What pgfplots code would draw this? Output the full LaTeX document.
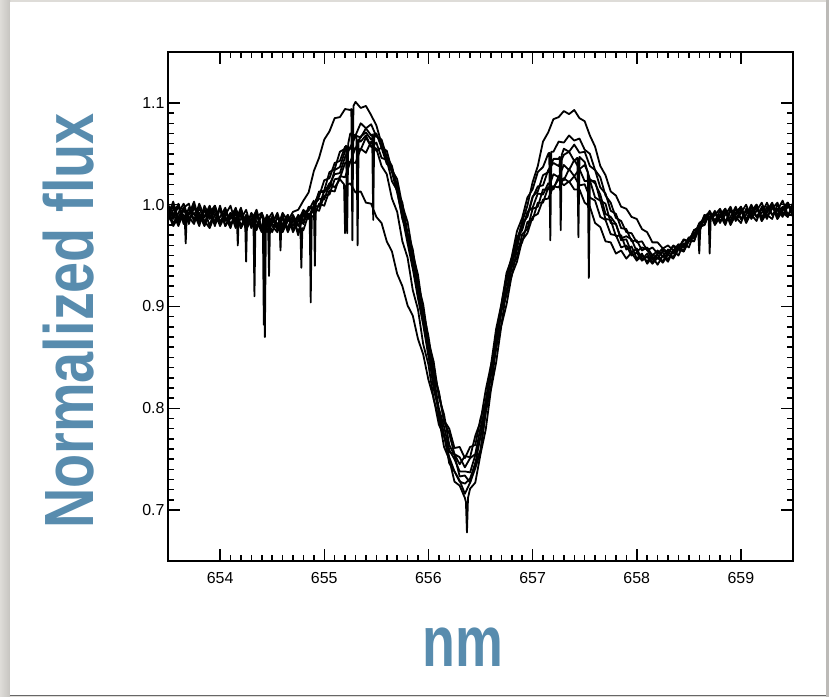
\documentclass[border=0pt]{standalone}
\usepackage{pgfplots}
\pgfplotsset{compat=1.18}
\usepackage{fontspec}
\setmainfont{Liberation Sans}
\newfontfamily\labelfont[FakeStretch=0.80]{Liberation Sans}
\newfontfamily\nmfont[FakeStretch=0.75]{Liberation Sans}
\definecolor{lblue}{RGB}{88,140,174}
\definecolor{bgA}{RGB}{222,220,216}
\definecolor{bgB}{RGB}{198,196,192}
\definecolor{bgR}{RGB}{188,186,183}
\begin{document}
\begin{tikzpicture}[x=1bp,y=1bp]
\fill[bgA] (0,0) rectangle (829,697);
\fill[left color=bgA,right color=bgB] (0,0) rectangle (10,697);
\fill[bgR] (826,0) rectangle (829,697);
\fill[white] (10,2) rectangle (826,695);
\fill[black!60] (10,0.5) rectangle (826,2);
\begin{axis}[
  at={(168bp,136bp)}, anchor=south west,
  width=625bp, height=509bp, scale only axis,
  xmin=653.5, xmax=659.5, ymin=0.65, ymax=1.15,
  xtick={654,655,656,657,658,659},
  ytick={0.7,0.8,0.9,1.0,1.1},
  minor x tick num=9, minor y tick num=9,
  tick align=inside,
  major tick length=12bp, minor tick length=6bp,
  axis line style={line width=1.6bp},
  every tick/.style={black,line width=1.5bp},
  tick label style={font=\fontsize{16}{19}\selectfont},
  /pgf/number format/assume math mode=true,
  x tick label style={yshift=-8bp},
  y tick label style={/pgf/number format/fixed,/pgf/number format/fixed zerofill,/pgf/number format/precision=1},
  cycle list={{black,solid,mark=none}},
  every axis plot post/.append style={black,solid,mark=none,line width=1.8bp,line join=round},
  clip=true,
]
% A
\addplot coordinates {(653.50,1.001)(653.55,0.986)(653.60,0.999)(653.65,0.981)(653.66,0.988)(653.67,0.962)(653.68,0.990)(653.70,0.997)(653.75,0.984)(653.80,1.001)(653.85,0.988)(653.90,0.995)(653.95,0.979)(654.00,0.997)(654.05,0.984)(654.10,0.992)(654.15,0.977)(654.20,0.995)(654.25,0.981)(654.30,0.990)(654.35,0.975)(654.40,0.992)(654.45,0.979)(654.50,0.988)(654.55,0.977)(654.60,0.992)(654.65,0.984)(654.70,0.993)(654.75,0.995)(654.80,1.004)(654.85,1.012)(654.90,1.033)(654.95,1.046)(655.00,1.064)(655.05,1.072)(655.10,1.085)(655.15,1.086)(655.20,1.094)(655.25,1.093)(655.26,1.094)(655.27,0.965)(655.28,1.097)(655.30,1.101)(655.35,1.095)(655.40,1.097)(655.45,1.088)(655.50,1.078)(655.55,1.060)(655.60,1.044)(655.65,1.032)(655.70,1.012)(655.75,0.988)(655.80,0.962)(655.85,0.937)(655.90,0.908)(655.95,0.882)(656.00,0.851)(656.05,0.824)(656.10,0.796)(656.15,0.773)(656.20,0.752)(656.25,0.738)(656.30,0.728)(656.35,0.726)(656.40,0.731)(656.45,0.746)(656.50,0.772)(656.55,0.801)(656.60,0.836)(656.65,0.868)(656.70,0.902)(656.75,0.928)(656.80,0.944)(656.85,0.962)(656.90,0.983)(656.95,0.999)(657.00,1.022)(657.05,1.038)(657.10,1.062)(657.15,1.071)(657.20,1.084)(657.25,1.086)(657.30,1.092)(657.35,1.089)(657.40,1.093)(657.45,1.085)(657.50,1.082)(657.55,1.068)(657.60,1.057)(657.65,1.038)(657.70,1.029)(657.75,1.013)(657.80,1.009)(657.85,0.998)(657.90,0.996)(657.95,0.988)(658.00,0.986)(658.05,0.976)(658.10,0.973)(658.15,0.963)(658.20,0.963)(658.25,0.957)(658.30,0.960)(658.35,0.955)(658.40,0.961)(658.45,0.960)(658.50,0.967)(658.55,0.970)(658.60,0.982)(658.65,0.986)(658.70,0.992)(658.75,0.984)(658.80,0.994)(658.85,0.982)(658.90,0.996)(658.95,0.986)(659.00,0.994)(659.05,0.984)(659.10,0.998)(659.15,0.988)(659.20,0.996)(659.25,0.986)(659.30,1.000)(659.35,0.990)(659.40,0.998)(659.45,0.988)(659.50,1.000)};
% B
\addplot coordinates {(653.50,0.990)(653.55,1.003)(653.60,0.984)(653.65,0.997)(653.70,0.981)(653.75,0.999)(653.80,0.986)(653.85,0.995)(653.90,0.979)(653.95,0.997)(654.00,0.981)(654.05,0.995)(654.10,0.979)(654.15,0.992)(654.20,0.977)(654.24,0.986)(654.25,0.944)(654.26,0.988)(654.30,0.979)(654.35,0.992)(654.40,0.975)(654.45,0.988)(654.50,0.973)(654.55,0.988)(654.60,0.977)(654.65,0.990)(654.70,0.975)(654.75,0.988)(654.80,0.981)(654.85,0.996)(654.90,0.997)(654.95,1.012)(655.00,1.014)(655.05,1.032)(655.10,1.035)(655.15,1.052)(655.20,1.055)(655.21,1.058)(655.22,0.972)(655.23,1.060)(655.25,1.070)(655.30,1.068)(655.35,1.080)(655.40,1.075)(655.45,1.079)(655.50,1.067)(655.55,1.064)(655.60,1.047)(655.65,1.038)(655.70,1.015)(655.75,0.997)(655.80,0.967)(655.85,0.947)(655.90,0.915)(655.95,0.890)(656.00,0.855)(656.05,0.832)(656.10,0.800)(656.15,0.782)(656.20,0.759)(656.25,0.750)(656.30,0.738)(656.35,0.738)(656.40,0.737)(656.45,0.754)(656.50,0.772)(656.55,0.807)(656.60,0.835)(656.65,0.872)(656.70,0.897)(656.75,0.930)(656.80,0.949)(656.85,0.974)(656.90,0.987)(656.95,1.007)(657.00,1.015)(657.05,1.032)(657.10,1.037)(657.15,1.050)(657.16,1.051)(657.17,0.965)(657.18,1.052)(657.20,1.052)(657.25,1.062)(657.30,1.061)(657.35,1.068)(657.40,1.063)(657.45,1.065)(657.50,1.054)(657.55,1.050)(657.60,1.034)(657.65,1.027)(657.70,1.009)(657.75,1.002)(657.80,0.987)(657.85,0.984)(657.90,0.973)(657.95,0.972)(658.00,0.963)(658.05,0.964)(658.10,0.955)(658.15,0.958)(658.20,0.952)(658.25,0.957)(658.30,0.953)(658.35,0.959)(658.40,0.957)(658.45,0.965)(658.50,0.964)(658.55,0.975)(658.60,0.978)(658.65,0.989)(658.70,0.988)(658.75,0.992)(658.80,0.982)(658.85,0.994)(658.90,0.984)(658.95,0.996)(659.00,0.986)(659.05,0.994)(659.10,0.988)(659.15,0.998)(659.20,0.986)(659.25,0.998)(659.30,0.990)(659.35,0.996)(659.40,0.988)(659.45,1.000)(659.50,0.992)};
% C
\addplot coordinates {(653.50,0.997)(653.55,0.981)(653.60,0.992)(653.65,1.001)(653.70,0.986)(653.75,0.992)(653.80,0.979)(653.85,0.999)(653.90,0.988)(653.95,0.984)(654.00,0.999)(654.05,0.979)(654.10,0.990)(654.15,0.995)(654.20,0.977)(654.25,0.988)(654.30,0.981)(654.32,0.986)(654.33,0.910)(654.34,0.988)(654.35,0.990)(654.40,0.977)(654.45,0.986)(654.50,0.979)(654.55,0.973)(654.60,0.988)(654.65,0.975)(654.70,0.986)(654.75,0.973)(654.80,0.990)(654.85,0.987)(654.90,0.999)(654.95,0.998)(655.00,1.014)(655.05,1.016)(655.10,1.034)(655.15,1.037)(655.20,1.053)(655.25,1.055)(655.30,1.068)(655.35,1.066)(655.40,1.075)(655.45,1.068)(655.46,1.069)(655.47,0.985)(655.48,1.070)(655.50,1.070)(655.55,1.056)(655.60,1.053)(655.65,1.034)(655.70,1.025)(655.75,0.999)(655.80,0.983)(655.85,0.952)(655.90,0.931)(655.95,0.895)(656.00,0.871)(656.05,0.837)(656.10,0.816)(656.15,0.787)(656.20,0.775)(656.25,0.755)(656.30,0.752)(656.35,0.742)(656.40,0.751)(656.45,0.755)(656.50,0.781)(656.55,0.802)(656.60,0.838)(656.65,0.862)(656.70,0.896)(656.75,0.915)(656.80,0.943)(656.85,0.957)(656.90,0.980)(656.95,0.989)(657.00,1.008)(657.05,1.013)(657.10,1.029)(657.15,1.032)(657.20,1.045)(657.25,1.045)(657.26,1.047)(657.27,0.975)(657.28,1.049)(657.30,1.055)(657.35,1.052)(657.40,1.059)(657.45,1.051)(657.50,1.052)(657.55,1.038)(657.60,1.034)(657.65,1.017)(657.70,1.011)(657.75,0.994)(657.80,0.991)(657.85,0.977)(657.90,0.976)(657.95,0.964)(658.00,0.965)(658.05,0.955)(658.10,0.958)(658.15,0.950)(658.20,0.955)(658.25,0.949)(658.30,0.956)(658.35,0.952)(658.40,0.961)(658.45,0.958)(658.50,0.968)(658.55,0.967)(658.60,0.981)(658.65,0.983)(658.70,0.993)(658.75,0.982)(658.80,0.990)(658.85,0.996)(658.90,0.982)(658.95,0.992)(659.00,0.998)(659.05,0.984)(659.10,0.994)(659.15,1.000)(659.20,0.988)(659.25,0.994)(659.30,1.002)(659.35,0.988)(659.40,0.996)(659.45,1.002)(659.50,0.990)};
% D
\addplot coordinates {(653.50,0.984)(653.55,0.995)(653.60,0.999)(653.65,0.984)(653.70,0.990)(653.75,1.003)(653.80,0.984)(653.85,0.988)(653.90,0.999)(653.95,0.981)(654.00,0.988)(654.05,0.997)(654.10,0.981)(654.15,0.986)(654.16,0.990)(654.17,0.960)(654.18,0.992)(654.20,0.997)(654.25,0.979)(654.30,0.986)(654.35,0.992)(654.40,0.977)(654.42,0.981)(654.43,0.870)(654.44,0.984)(654.45,0.984)(654.50,0.992)(654.55,0.975)(654.60,0.981)(654.65,0.990)(654.70,0.973)(654.75,0.984)(654.80,0.995)(654.85,0.988)(654.90,0.999)(654.95,1.006)(655.00,1.005)(655.05,1.020)(655.10,1.030)(655.15,1.031)(655.20,1.047)(655.25,1.056)(655.30,1.055)(655.35,1.067)(655.40,1.071)(655.45,1.064)(655.50,1.068)(655.55,1.062)(655.60,1.043)(655.65,1.036)(655.70,1.019)(655.75,0.989)(655.80,0.971)(655.85,0.946)(655.90,0.910)(655.95,0.887)(656.00,0.857)(656.05,0.819)(656.10,0.798)(656.15,0.774)(656.20,0.746)(656.25,0.738)(656.30,0.729)(656.35,0.716)(656.40,0.727)(656.45,0.741)(656.50,0.758)(656.55,0.796)(656.60,0.832)(656.65,0.858)(656.70,0.896)(656.75,0.924)(656.80,0.939)(656.85,0.965)(656.90,0.982)(656.95,0.988)(657.00,1.007)(657.05,1.018)(657.10,1.019)(657.15,1.034)(657.20,1.041)(657.25,1.038)(657.30,1.049)(657.35,1.052)(657.40,1.043)(657.43,1.046)(657.44,0.968)(657.45,1.047)(657.50,1.042)(657.55,1.025)(657.60,1.021)(657.65,1.010)(657.70,0.991)(657.75,0.988)(657.80,0.981)(657.85,0.967)(657.90,0.969)(657.95,0.966)(658.00,0.954)(658.05,0.958)(658.10,0.956)(658.15,0.946)(658.20,0.952)(658.25,0.953)(658.30,0.946)(658.35,0.955)(658.40,0.958)(658.45,0.955)(658.50,0.966)(658.55,0.972)(658.60,0.973)(658.65,0.988)(658.70,0.993)(658.75,0.980)(658.80,0.988)(658.85,0.996)(658.90,0.982)(658.95,0.990)(659.00,0.998)(659.05,0.986)(659.10,0.992)(659.15,1.000)(659.20,0.984)(659.25,0.992)(659.30,1.000)(659.35,0.986)(659.40,0.994)(659.45,1.002)(659.50,0.988)};
% E
\addplot coordinates {(653.50,0.992)(653.55,0.979)(653.60,0.988)(653.65,0.997)(653.70,1.001)(653.75,0.984)(653.80,0.992)(653.85,0.981)(653.90,0.997)(653.95,0.992)(654.00,0.979)(654.05,0.990)(654.10,0.999)(654.15,0.981)(654.20,0.986)(654.25,0.995)(654.30,0.977)(654.35,0.988)(654.40,0.992)(654.41,0.988)(654.42,0.882)(654.43,0.984)(654.45,0.975)(654.50,0.984)(654.55,0.990)(654.60,0.973)(654.65,0.984)(654.70,0.988)(654.75,0.970)(654.80,0.992)(654.85,0.986)(654.90,0.996)(654.95,0.994)(655.00,1.009)(655.05,1.010)(655.10,1.025)(655.15,1.026)(655.20,1.041)(655.25,1.042)(655.30,1.056)(655.35,1.054)(655.40,1.066)(655.45,1.057)(655.50,1.061)(655.55,1.046)(655.60,1.044)(655.65,1.023)(655.70,1.014)(655.75,0.986)(655.80,0.971)(655.85,0.938)(655.90,0.920)(655.95,0.885)(656.00,0.866)(656.05,0.832)(656.10,0.816)(656.15,0.788)(656.20,0.780)(656.25,0.761)(656.30,0.762)(656.35,0.751)(656.40,0.762)(656.45,0.764)(656.50,0.790)(656.55,0.806)(656.60,0.842)(656.65,0.862)(656.70,0.896)(656.75,0.911)(656.80,0.939)(656.85,0.948)(656.90,0.971)(656.95,0.976)(657.00,0.996)(657.05,0.998)(657.10,1.015)(657.15,1.015)(657.20,1.030)(657.25,1.027)(657.30,1.039)(657.35,1.034)(657.40,1.044)(657.45,1.035)(657.50,1.039)(657.53,1.032)(657.54,0.928)(657.55,1.024)(657.60,1.023)(657.65,1.004)(657.70,1.001)(657.75,0.982)(657.80,0.981)(657.85,0.965)(657.90,0.966)(657.95,0.953)(658.00,0.957)(658.05,0.946)(658.10,0.952)(658.15,0.943)(658.20,0.951)(658.25,0.944)(658.30,0.954)(658.35,0.948)(658.40,0.959)(658.45,0.954)(658.50,0.966)(658.55,0.964)(658.60,0.980)(658.65,0.980)(658.70,0.994)(658.75,0.984)(658.80,0.990)(658.85,0.980)(658.90,0.994)(658.95,0.988)(659.00,0.982)(659.05,0.996)(659.10,0.990)(659.15,0.984)(659.20,0.998)(659.25,0.990)(659.30,0.986)(659.35,1.000)(659.40,0.992)(659.45,0.988)(659.50,1.002)};
% F
\addplot coordinates {(653.50,0.988)(653.55,0.999)(653.60,0.981)(653.65,0.990)(653.70,0.984)(653.75,0.997)(653.80,0.990)(653.85,0.979)(653.90,0.992)(653.95,0.999)(654.00,0.984)(654.05,0.988)(654.10,0.977)(654.15,0.995)(654.20,0.988)(654.25,0.977)(654.30,0.992)(654.35,0.984)(654.40,0.973)(654.45,0.990)(654.50,0.981)(654.55,0.977)(654.57,0.984)(654.58,0.955)(654.59,0.986)(654.60,0.990)(654.65,0.973)(654.70,0.984)(654.75,0.988)(654.77,0.981)(654.78,0.938)(654.79,0.977)(654.80,0.975)(654.85,0.991)(654.86,0.990)(654.87,0.904)(654.88,0.989)(654.90,0.988)(654.95,1.001)(655.00,0.999)(655.05,1.014)(655.10,1.013)(655.15,1.028)(655.20,1.027)(655.25,1.042)(655.30,1.041)(655.35,1.055)(655.40,1.051)(655.45,1.062)(655.50,1.053)(655.55,1.056)(655.60,1.040)(655.65,1.036)(655.70,1.013)(655.75,1.002)(655.80,0.972)(655.85,0.956)(655.90,0.922)(655.95,0.902)(656.00,0.866)(656.05,0.846)(656.10,0.811)(656.15,0.794)(656.20,0.764)(656.25,0.754)(656.30,0.733)(656.35,0.734)(656.40,0.727)(656.45,0.746)(656.50,0.759)(656.55,0.796)(656.60,0.820)(656.65,0.860)(656.70,0.882)(656.75,0.916)(656.80,0.930)(656.85,0.956)(656.90,0.963)(656.95,0.983)(657.00,0.985)(657.05,1.002)(657.10,1.002)(657.15,1.017)(657.20,1.015)(657.25,1.028)(657.30,1.024)(657.35,1.035)(657.40,1.028)(657.45,1.035)(657.50,1.023)(657.55,1.024)(657.60,1.007)(657.65,1.004)(657.70,0.986)(657.75,0.985)(657.80,0.969)(657.85,0.970)(657.90,0.956)(657.95,0.959)(658.00,0.947)(658.05,0.952)(658.10,0.942)(658.15,0.949)(658.20,0.941)(658.25,0.950)(658.30,0.944)(658.35,0.955)(658.40,0.950)(658.45,0.962)(658.50,0.958)(658.55,0.972)(658.59,0.974)(658.60,0.952)(658.61,0.976)(658.65,0.988)(658.70,0.985)(658.75,0.990)(658.80,0.996)(658.85,0.984)(658.90,0.988)(658.95,0.998)(659.00,0.986)(659.05,0.990)(659.10,1.000)(659.15,0.988)(659.20,0.992)(659.25,1.002)(659.30,0.990)(659.35,0.994)(659.40,1.004)(659.45,0.990)(659.50,0.996)};
% G
\addplot coordinates {(653.50,0.995)(653.55,0.988)(653.60,1.001)(653.65,0.986)(653.70,0.992)(653.75,0.999)(653.80,0.981)(653.85,0.995)(653.90,0.986)(653.95,0.999)(654.00,0.981)(654.05,0.992)(654.10,0.986)(654.15,0.997)(654.20,0.979)(654.25,0.990)(654.30,0.984)(654.35,0.995)(654.40,0.977)(654.45,0.988)(654.46,0.986)(654.47,0.930)(654.48,0.984)(654.50,0.981)(654.55,0.992)(654.60,0.975)(654.65,0.986)(654.70,0.979)(654.75,0.990)(654.80,0.984)(654.85,0.998)(654.90,0.997)(654.95,1.013)(655.00,1.012)(655.05,1.021)(655.10,1.017)(655.15,1.025)(655.19,1.020)(655.20,0.972)(655.21,1.019)(655.25,1.021)(655.30,1.012)(655.35,1.013)(655.40,1.002)(655.45,1.001)(655.50,0.988)(655.55,0.982)(655.60,0.964)(655.65,0.954)(655.70,0.932)(655.75,0.920)(655.80,0.901)(655.85,0.891)(655.90,0.868)(655.95,0.853)(656.00,0.828)(656.05,0.810)(656.10,0.784)(656.15,0.773)(656.20,0.757)(656.25,0.755)(656.30,0.745)(656.35,0.753)(656.40,0.752)(656.45,0.773)(656.50,0.787)(656.55,0.818)(656.60,0.842)(656.65,0.878)(656.70,0.902)(656.75,0.933)(656.80,0.947)(656.85,0.968)(656.90,0.975)(656.95,0.993)(657.00,0.997)(657.05,1.011)(657.10,1.010)(657.15,1.021)(657.20,1.017)(657.25,1.025)(657.30,1.019)(657.35,1.023)(657.40,1.015)(657.45,1.015)(657.50,1.002)(657.55,0.998)(657.60,0.982)(657.65,0.978)(657.70,0.964)(657.75,0.963)(657.80,0.952)(657.85,0.955)(657.90,0.947)(657.95,0.953)(658.00,0.945)(658.05,0.950)(658.10,0.944)(658.15,0.951)(658.20,0.947)(658.25,0.955)(658.30,0.952)(658.35,0.960)(658.40,0.957)(658.45,0.966)(658.50,0.964)(658.55,0.975)(658.60,0.977)(658.65,0.990)(658.69,0.988)(658.70,0.952)(658.71,0.987)(658.75,0.994)(658.80,0.984)(658.85,0.990)(658.90,0.998)(658.95,0.984)(659.00,0.992)(659.05,1.000)(659.10,0.986)(659.15,0.994)(659.20,1.002)(659.25,0.988)(659.30,0.996)(659.35,1.002)(659.40,0.990)(659.45,0.998)(659.50,0.994)};
% H
\addplot coordinates {(653.50,0.986)(653.55,0.992)(653.60,0.979)(653.65,0.995)(653.70,0.988)(653.75,0.981)(653.80,0.997)(653.85,0.984)(653.90,0.977)(653.95,0.990)(654.00,0.995)(654.05,0.979)(654.10,0.988)(654.15,0.984)(654.20,0.992)(654.25,0.975)(654.30,0.986)(654.35,0.979)(654.40,0.990)(654.45,0.973)(654.50,0.988)(654.55,0.981)(654.60,0.986)(654.65,0.977)(654.70,0.990)(654.75,0.979)(654.80,0.993)(654.85,0.994)(654.90,1.004)(654.91,0.940)(654.92,1.005)(654.95,1.008)(655.00,1.024)(655.05,1.026)(655.10,1.041)(655.15,1.043)(655.20,1.057)(655.25,1.056)(655.30,1.068)(655.31,1.066)(655.32,0.960)(655.33,1.064)(655.35,1.062)(655.40,1.068)(655.45,1.057)(655.50,1.055)(655.55,1.038)(655.60,1.030)(655.65,1.006)(655.70,0.993)(655.75,0.964)(655.80,0.948)(655.85,0.916)(655.90,0.897)(655.95,0.863)(656.00,0.843)(656.05,0.809)(656.10,0.791)(656.15,0.762)(656.20,0.750)(656.25,0.728)(656.30,0.724)(656.35,0.712)(656.36,0.708)(656.37,0.678)(656.38,0.712)(656.40,0.721)(656.45,0.727)(656.50,0.755)(656.55,0.779)(656.60,0.818)(656.65,0.845)(656.70,0.881)(656.75,0.902)(656.80,0.931)(656.85,0.944)(656.90,0.965)(656.95,0.972)(657.00,0.988)(657.05,0.991)(657.10,1.005)(657.15,1.006)(657.20,1.018)(657.25,1.017)(657.30,1.026)(657.35,1.022)(657.40,1.028)(657.45,1.019)(657.50,1.020)(657.55,1.007)(657.60,1.004)(657.65,0.988)(657.70,0.985)(657.75,0.971)(657.80,0.970)(657.85,0.958)(657.90,0.960)(657.95,0.950)(658.00,0.953)(658.05,0.945)(658.10,0.949)(658.15,0.942)(658.20,0.948)(658.25,0.943)(658.30,0.951)(658.35,0.947)(658.40,0.956)(658.45,0.954)(658.50,0.964)(658.55,0.964)(658.60,0.978)(658.65,0.980)(658.70,0.992)(658.75,0.982)(658.80,0.988)(658.85,0.994)(658.90,0.980)(658.95,0.990)(659.00,0.996)(659.05,0.982)(659.10,0.992)(659.15,0.998)(659.20,0.984)(659.25,0.994)(659.30,1.000)(659.35,0.986)(659.40,0.996)(659.45,1.002)(659.50,0.992)};
\end{axis}
\node[rotate=90,text=lblue,inner sep=0pt,font=\labelfont\bfseries\fontsize{70}{80}\selectfont] at (68.5,376) {Normalized flux};
\node[text=lblue,inner sep=0pt,font=\nmfont\bfseries\fontsize{72}{80}\selectfont] at (463,50) {nm};
\end{tikzpicture}
\end{document}
